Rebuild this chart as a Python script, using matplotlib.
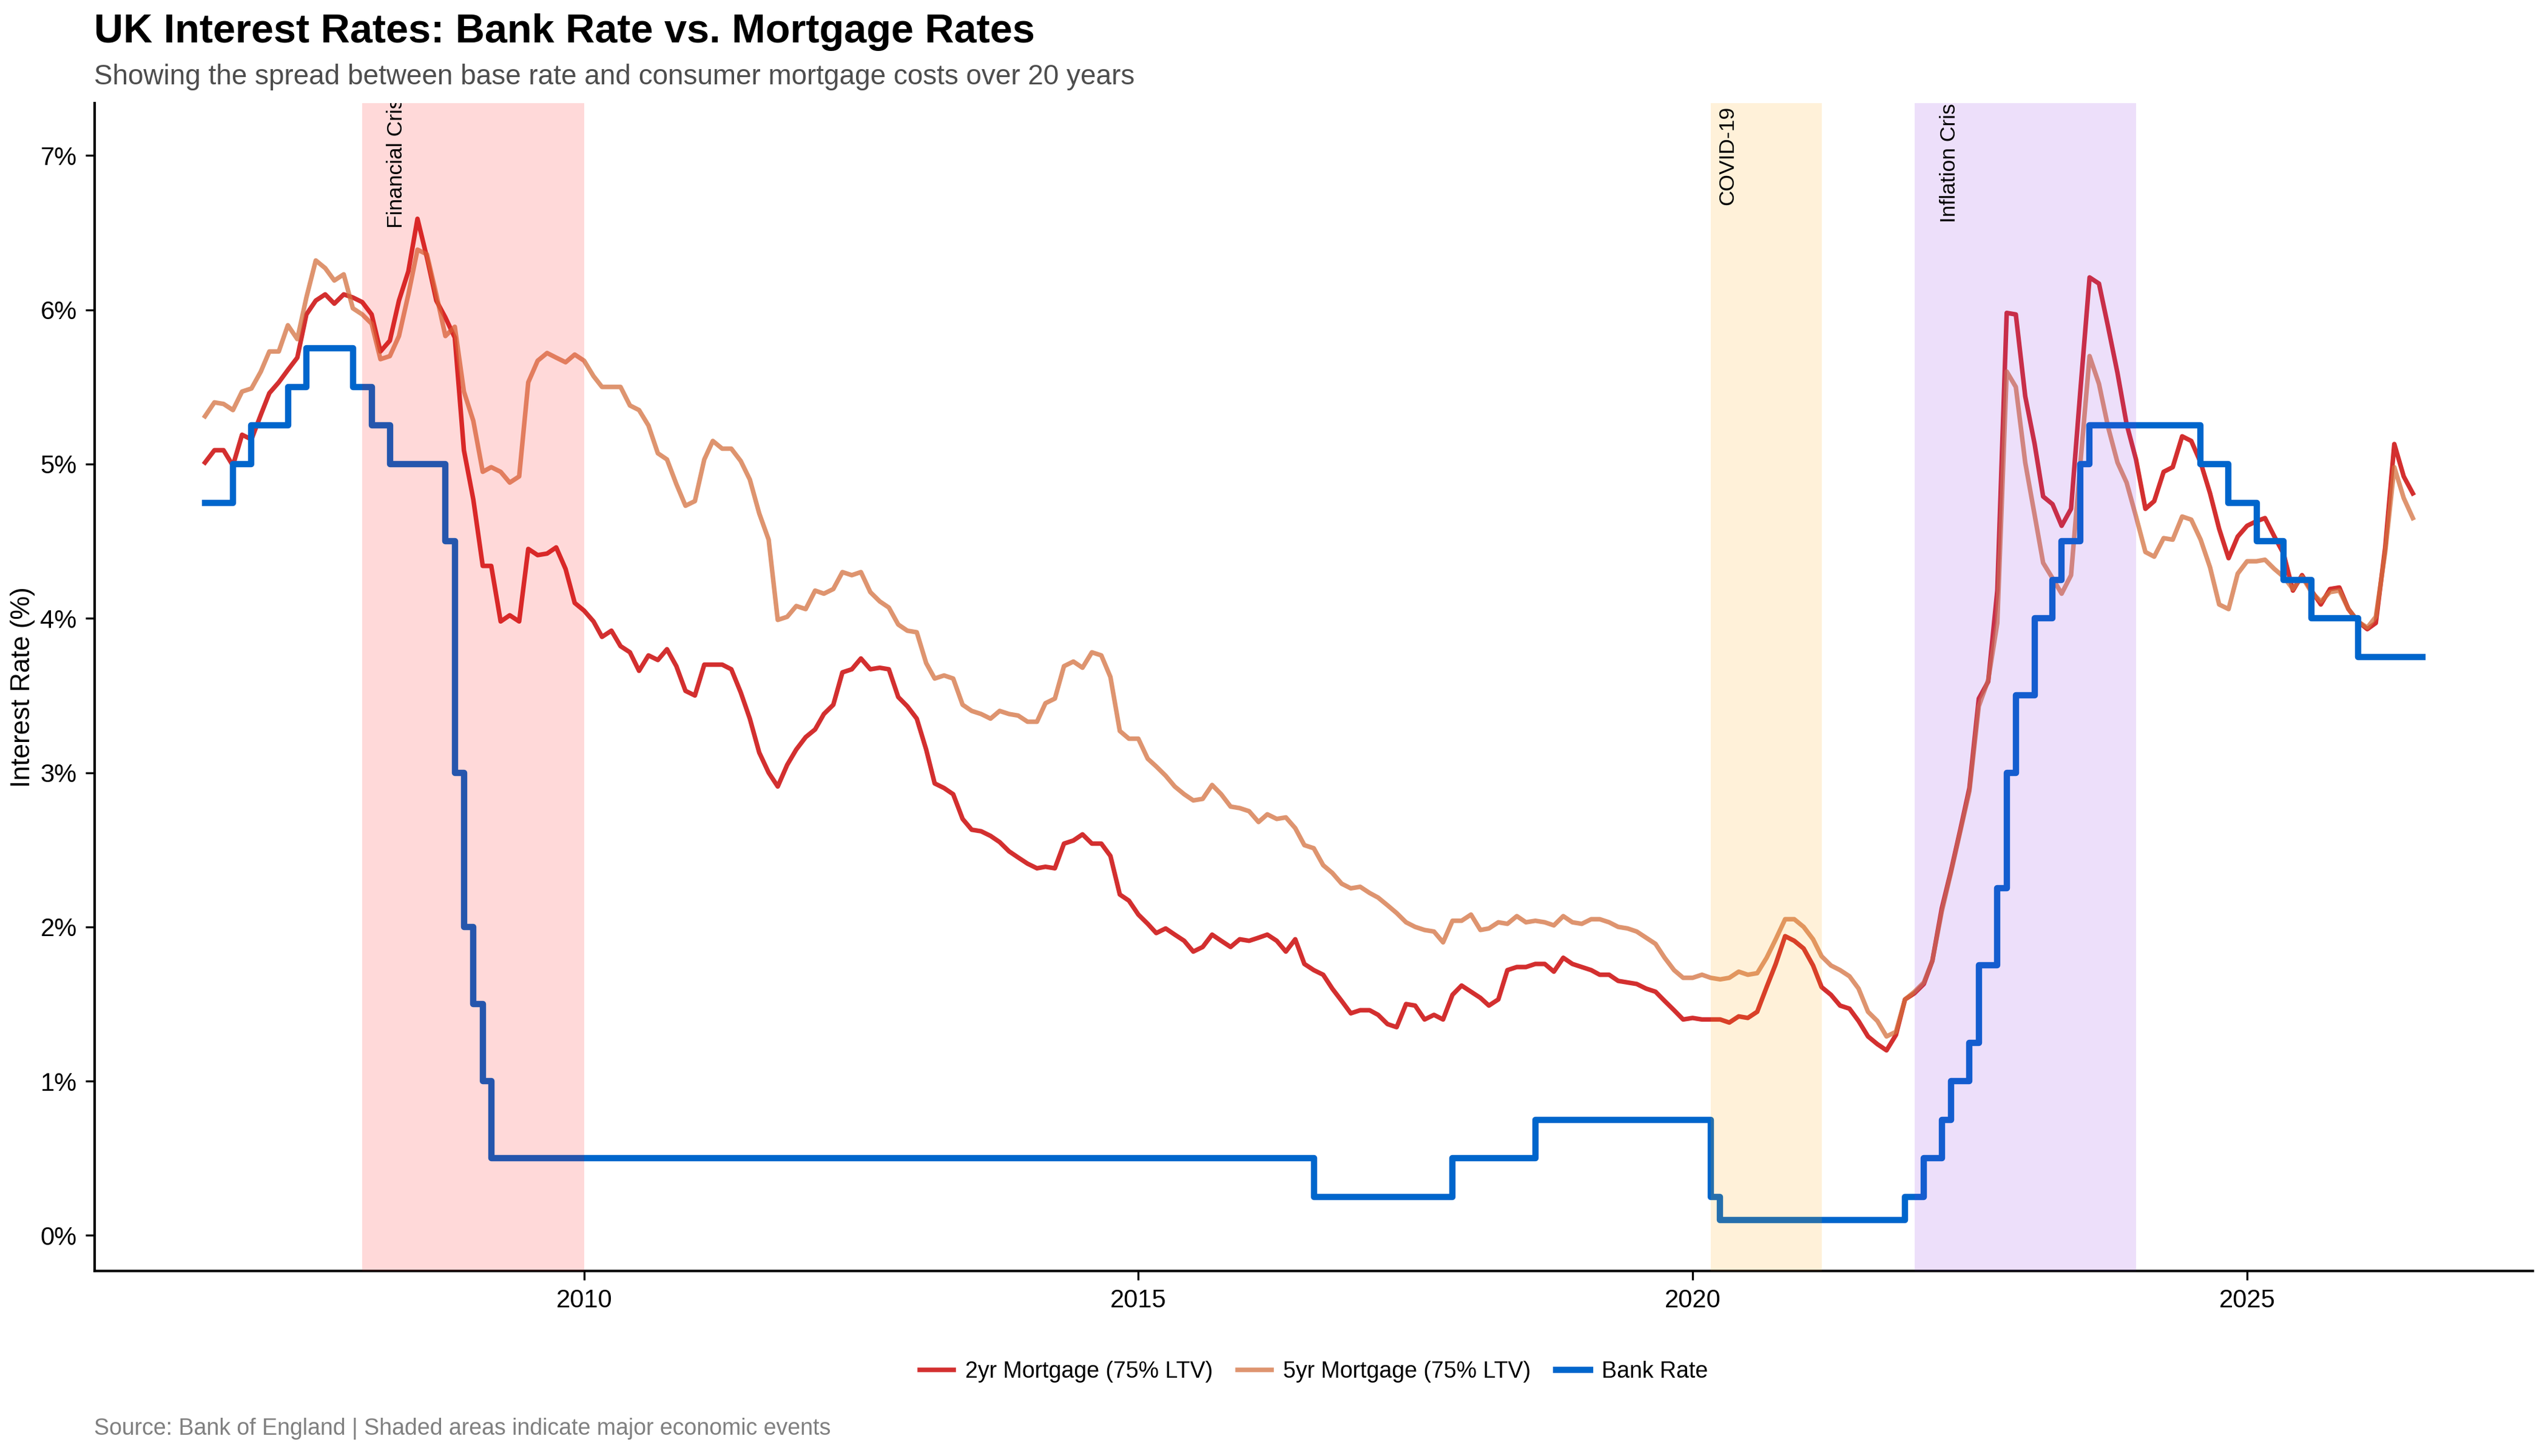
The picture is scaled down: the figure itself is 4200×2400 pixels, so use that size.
import matplotlib
matplotlib.use("Agg")
import matplotlib.pyplot as plt
import matplotlib.dates as mdates
from matplotlib.ticker import FuncFormatter
import pandas as pd

plt.rcParams['font.family'] = ['Liberation Sans', 'DejaVu Sans']

# monthly data, Aug 2006 - Jul 2026
start_month = '2006-08-01'
n_months = 240

mortgage_2yr = [
    5.01, 5.09, 5.09, 4.99, 5.19, 5.16, 5.32, 5.46, 5.53, 5.61, 5.69, 5.97,
    6.06, 6.10, 6.04, 6.10, 6.08, 6.05, 5.97, 5.73, 5.80, 6.06, 6.25, 6.59,
    6.34, 6.06, 5.95, 5.82, 5.09, 4.77, 4.34, 4.34, 3.98, 4.02, 3.98, 4.45,
    4.41, 4.42, 4.46, 4.32, 4.10, 4.05, 3.98, 3.88, 3.92, 3.82, 3.78, 3.66,
    3.76, 3.73, 3.80, 3.69, 3.53, 3.50, 3.70, 3.70, 3.70, 3.67, 3.52, 3.35,
    3.13, 3.00, 2.91, 3.05, 3.15, 3.23, 3.28, 3.38, 3.44, 3.65, 3.67, 3.74,
    3.67, 3.68, 3.67, 3.49, 3.43, 3.35, 3.15, 2.93, 2.90, 2.86, 2.70, 2.63,
    2.62, 2.59, 2.55, 2.49, 2.45, 2.41, 2.38, 2.39, 2.38, 2.54, 2.56, 2.60,
    2.54, 2.54, 2.46, 2.21, 2.17, 2.08, 2.02, 1.96, 1.99, 1.95, 1.91, 1.84,
    1.87, 1.95, 1.91, 1.87, 1.92, 1.91, 1.93, 1.95, 1.91, 1.84, 1.92, 1.76,
    1.72, 1.69, 1.60, 1.52, 1.44, 1.46, 1.46, 1.43, 1.37, 1.35, 1.50, 1.49,
    1.40, 1.43, 1.40, 1.56, 1.62, 1.58, 1.54, 1.49, 1.53, 1.72, 1.74, 1.74,
    1.76, 1.76, 1.71, 1.80, 1.76, 1.74, 1.72, 1.69, 1.69, 1.65, 1.64, 1.63,
    1.60, 1.58, 1.52, 1.46, 1.40, 1.41, 1.40, 1.40, 1.40, 1.38, 1.42, 1.41,
    1.45, 1.61, 1.76, 1.94, 1.91, 1.86, 1.75, 1.61, 1.56, 1.49, 1.47, 1.39,
    1.29, 1.24, 1.20, 1.30, 1.53, 1.57, 1.63, 1.78, 2.12, 2.36, 2.63, 2.90,
    3.48, 3.59, 4.18, 5.98, 5.97, 5.44, 5.13, 4.79, 4.74, 4.60, 4.71, 5.46,
    6.21, 6.17, 5.89, 5.59, 5.26, 5.03, 4.71, 4.76, 4.95, 4.98, 5.18, 5.15,
    5.01, 4.81, 4.58, 4.39, 4.53, 4.60, 4.63, 4.65, 4.53, 4.42, 4.18, 4.28,
    4.18, 4.09, 4.19, 4.20, 4.06, 3.98, 3.93, 3.97, 4.46, 5.13, 4.92, 4.81,
]

mortgage_5yr = [
    5.31, 5.40, 5.39, 5.35, 5.47, 5.49, 5.60, 5.73, 5.73, 5.90, 5.81, 6.08,
    6.32, 6.27, 6.19, 6.23, 6.01, 5.97, 5.91, 5.68, 5.70, 5.83, 6.10, 6.39,
    6.36, 6.10, 5.83, 5.89, 5.47, 5.28, 4.95, 4.98, 4.95, 4.88, 4.92, 5.53,
    5.67, 5.72, 5.69, 5.66, 5.71, 5.67, 5.57, 5.50, 5.50, 5.50, 5.38, 5.35,
    5.25, 5.07, 5.03, 4.87, 4.73, 4.76, 5.03, 5.15, 5.10, 5.10, 5.02, 4.90,
    4.68, 4.51, 3.99, 4.01, 4.08, 4.06, 4.18, 4.16, 4.19, 4.30, 4.28, 4.30,
    4.17, 4.11, 4.07, 3.96, 3.92, 3.91, 3.71, 3.61, 3.63, 3.61, 3.44, 3.40,
    3.38, 3.35, 3.40, 3.38, 3.37, 3.33, 3.33, 3.45, 3.48, 3.69, 3.72, 3.68,
    3.78, 3.76, 3.62, 3.27, 3.22, 3.22, 3.09, 3.04, 2.98, 2.91, 2.86, 2.82,
    2.83, 2.92, 2.86, 2.78, 2.77, 2.75, 2.68, 2.73, 2.70, 2.71, 2.64, 2.53,
    2.51, 2.40, 2.35, 2.28, 2.25, 2.26, 2.22, 2.19, 2.14, 2.09, 2.03, 2.00,
    1.98, 1.97, 1.90, 2.04, 2.04, 2.08, 1.98, 1.99, 2.03, 2.02, 2.07, 2.03,
    2.04, 2.03, 2.01, 2.07, 2.03, 2.02, 2.05, 2.05, 2.03, 2.00, 1.99, 1.97,
    1.93, 1.89, 1.80, 1.72, 1.67, 1.67, 1.69, 1.67, 1.66, 1.67, 1.71, 1.69,
    1.70, 1.80, 1.92, 2.05, 2.05, 2.00, 1.92, 1.81, 1.75, 1.72, 1.68, 1.60,
    1.45, 1.39, 1.29, 1.32, 1.53, 1.58, 1.64, 1.78, 2.10, 2.35, 2.62, 2.88,
    3.43, 3.60, 3.97, 5.60, 5.50, 5.01, 4.67, 4.36, 4.26, 4.16, 4.28, 4.99,
    5.70, 5.52, 5.24, 5.01, 4.88, 4.66, 4.43, 4.40, 4.52, 4.51, 4.66, 4.64,
    4.51, 4.33, 4.09, 4.06, 4.29, 4.37, 4.37, 4.38, 4.32, 4.27, 4.19, 4.27,
    4.17, 4.11, 4.17, 4.18, 4.06, 3.98, 3.94, 4.01, 4.43, 4.98, 4.78, 4.65,
]

# Bank Rate changes (month it takes effect) and level
bank_dates = [
    '2006-08', '2006-11', '2007-01', '2007-05', '2007-07', '2007-12', '2008-02',
    '2008-04', '2008-10', '2008-11', '2008-12', '2009-01', '2009-02', '2009-03',
    '2016-08', '2017-11', '2018-08', '2020-03', '2020-04', '2021-12', '2022-02',
    '2022-04', '2022-05', '2022-07', '2022-08', '2022-10', '2022-11', '2022-12',
    '2023-02', '2023-04', '2023-05', '2023-07', '2023-08', '2024-08', '2024-11',
    '2025-02', '2025-05', '2025-08', '2026-01', '2026-08',
]
bank_rate = [
    4.75, 5.00, 5.25, 5.50, 5.75, 5.50, 5.25,
    5.00, 4.50, 3.00, 2.00, 1.50, 1.00, 0.50,
    0.25, 0.50, 0.75, 0.25, 0.10, 0.25, 0.50,
    0.75, 1.00, 1.25, 1.75, 2.25, 3.00, 3.50,
    4.00, 4.25, 4.50, 5.00, 5.25, 5.00, 4.75,
    4.50, 4.25, 4.00, 3.75, 3.75,
]

events = ['Financial Crisis', 'COVID-19', 'Inflation Crisis']
event_start = ['2008-01-01', '2020-03-01', '2022-01-01']
event_end = ['2010-01-01', '2021-03-01', '2024-01-01']
event_label_x = ['2008-03-20', '2020-03-24', '2022-03-24']
event_colors = ['red', 'orange', 'blueviolet']

dates = pd.date_range(start_month, periods=n_months, freq='MS')
bank_x = pd.to_datetime(bank_dates)

fig = plt.figure(figsize=(14, 8), dpi=300)
ax = fig.add_axes([0.0371, 0.1271, 0.9569, 0.8021])

ax.plot(dates, mortgage_2yr, color='#D32F2F', lw=1.8, label='2yr Mortgage (75% LTV)')
ax.plot(dates, mortgage_5yr, color='#D4703F', lw=1.8, alpha=0.75, label='5yr Mortgage (75% LTV)')
ax.plot(bank_x, bank_rate, color='#0066CC', lw=2.5, drawstyle='steps-post', label='Bank Rate')

# shaded events sit on top of the lines
for name, s, e, lx, c in zip(events, event_start, event_end, event_label_x, event_colors):
    ax.axvspan(pd.Timestamp(s), pd.Timestamp(e), color=c, alpha=0.15, lw=0, zorder=3)
    ax.text(pd.Timestamp(lx), 7.0, name, rotation=90, ha='left', va='center',
            fontsize=8.5, color='black', clip_on=True, zorder=4)

ax.set_xlim(pd.Timestamp('2005-08-02'), pd.Timestamp('2027-07-31'))
ax.set_ylim(-0.23, 7.34)
ax.set_yticks(range(0, 8))
ax.yaxis.set_major_formatter(FuncFormatter(lambda v, p: f'{v:.0f}%'))
ax.xaxis.set_major_locator(mdates.YearLocator(5))
ax.xaxis.set_major_formatter(mdates.DateFormatter('%Y'))
ax.tick_params(labelsize=10, colors='black')
ax.set_ylabel('Interest Rate (%)', fontsize=10.5, labelpad=2)

for side in ['top', 'right']:
    ax.spines[side].set_visible(False)
for side in ['left', 'bottom']:
    ax.spines[side].set_linewidth(1.0)
    ax.spines[side].set_color('black')

ax.legend(loc='center', bbox_to_anchor=(0.5, -0.0862), ncol=3, frameon=False,
          fontsize=9, handlelength=1.5, handletextpad=0.5, columnspacing=1.1)

fig.text(0.0369, 0.9708, 'UK Interest Rates: Bank Rate vs. Mortgage Rates',
         fontsize=16, fontweight='bold', va='baseline', ha='left')
fig.text(0.0369, 0.9422, 'Showing the spread between base rate and consumer mortgage costs over 20 years',
         fontsize=11, color='#4D4D4D', va='baseline', ha='left')
fig.text(0.0369, 0.0188, 'Source: Bank of England | Shaded areas indicate major economic events',
         fontsize=9, color='#808080', va='center', ha='left')

fig.savefig('out.png', dpi=300)
